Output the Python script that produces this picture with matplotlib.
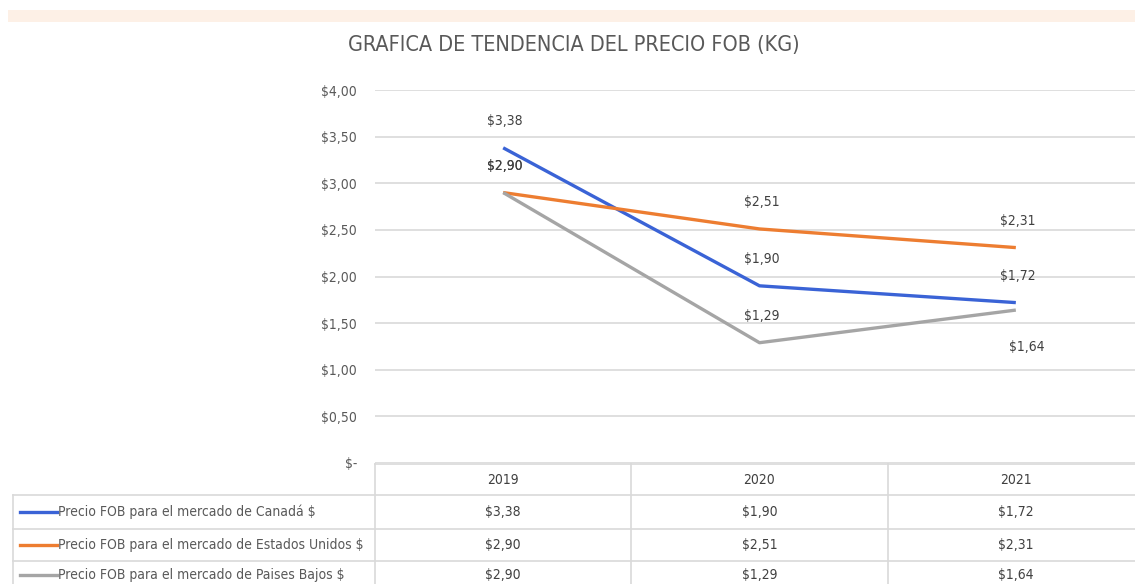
import matplotlib
matplotlib.use("Agg")
import matplotlib.pyplot as plt
import matplotlib.transforms as mtransforms
from matplotlib.lines import Line2D
from matplotlib.patches import Rectangle

years = ["2019", "2020", "2021"]
series_names = [
    "Precio FOB para el mercado de Canadá $",
    "Precio FOB para el mercado de Estados Unidos $",
    "Precio FOB para el mercado de Paises Bajos $",
]
canada = [3.38, 1.90, 1.72]
estados_unidos = [2.90, 2.51, 2.31]
paises_bajos = [2.90, 1.29, 1.64]
y_ticks = [0, 0.5, 1.0, 1.5, 2.0, 2.5, 3.0, 3.5, 4.0]

colors = ["#3a63d6", "#ED7D31", "#A5A5A5"]
txt = "#595959"
grid_c = "#D9D9D9"
plt.rcParams["font.family"] = ["DejaVu Sans"]
plt.rcParams["font.stretch"] = "condensed"

W, H = 1135, 584
fig = plt.figure(figsize=(W / 100, H / 100), dpi=100)


def fx(px):
    return px / W


def fy(px):
    return 1 - px / H


def money(v):
    if v == 0:
        return "$-"
    return ("$%.2f" % v).replace(".", ",")


# faint band on top
fig.patches.append(Rectangle((fx(8), fy(22)), 1, fy(10) - fy(22),
                             transform=fig.transFigure, color="#FDF0E6", lw=0))

fig.text(fx(574), fy(45), "GRAFICA DE TENDENCIA DEL PRECIO FOB (KG)",
         ha="center", va="center", fontsize=15.5, color=txt)

ax = fig.add_axes([fx(375), fy(463), fx(1144) - fx(375), fy(90) - fy(463)])
x = list(range(len(years)))
ax.set_xlim(-0.5, len(years) - 0.5)
ax.set_ylim(0, 4)
ax.set_yticks(y_ticks)
ax.set_yticklabels([money(v) for v in y_ticks], fontsize=10, color=txt)
ax.set_xticks([])
ax.tick_params(axis="y", length=0, pad=13)
for s in ax.spines.values():
    s.set_visible(False)
ax.grid(axis="y", color=grid_c, lw=1.2)
ax.set_axisbelow(True)

all_series = [canada, estados_unidos, paises_bajos]
for vals, c in zip(all_series, colors):
    ax.plot(x, vals, color=c, lw=2.4, solid_capstyle="butt")

for k, (vals, c) in enumerate(zip(all_series, colors)):
    for i, v in enumerate(vals):
        # last grey label sits under its point
        off = (11, -37) if (k == 2 and i == 2) else (2, 27)
        ax.annotate(money(v), (i, v), xytext=off, textcoords="offset pixels",
                    ha="center", va="center", fontsize=10, color="#404040")

# data table under the chart
tr = mtransforms.blended_transform_factory(ax.transData, fig.transFigure)
row_lines = [464, 495, 529, 561, 594]
line_kw = dict(color=grid_c, lw=1.2, clip_on=False)

fig.add_artist(Line2D([fx(375), 1], [fy(464), fy(464)], transform=fig.transFigure, **line_kw))
for yl in row_lines[1:]:
    fig.add_artist(Line2D([fx(13), 1], [fy(yl), fy(yl)], transform=fig.transFigure, **line_kw))
fig.add_artist(Line2D([fx(13), fx(13)], [fy(495), fy(594)], transform=fig.transFigure, **line_kw))
for i in range(len(years)):
    fig.add_artist(Line2D([i - 0.5, i - 0.5], [fy(464), fy(594)], transform=tr, **line_kw))

for i, yr in enumerate(years):
    fig.text(i, fy((row_lines[0] + row_lines[1]) / 2), yr, transform=tr,
             ha="center", va="center", fontsize=10, color="#404040")

for r, (name, vals, c) in enumerate(zip(series_names, all_series, colors)):
    yc = fy(min((row_lines[r + 1] + row_lines[r + 2]) / 2, 575))
    fig.add_artist(Line2D([fx(20), fx(57)], [yc, yc], transform=fig.transFigure,
                          color=c, lw=2.4))
    fig.text(fx(58), yc, name, ha="left", va="center", fontsize=10, color=txt)
    for i, v in enumerate(vals):
        fig.text(i, yc, money(v), transform=tr, ha="center", va="center",
                 fontsize=10, color="#404040")

fig.savefig("out.png", dpi=100)
